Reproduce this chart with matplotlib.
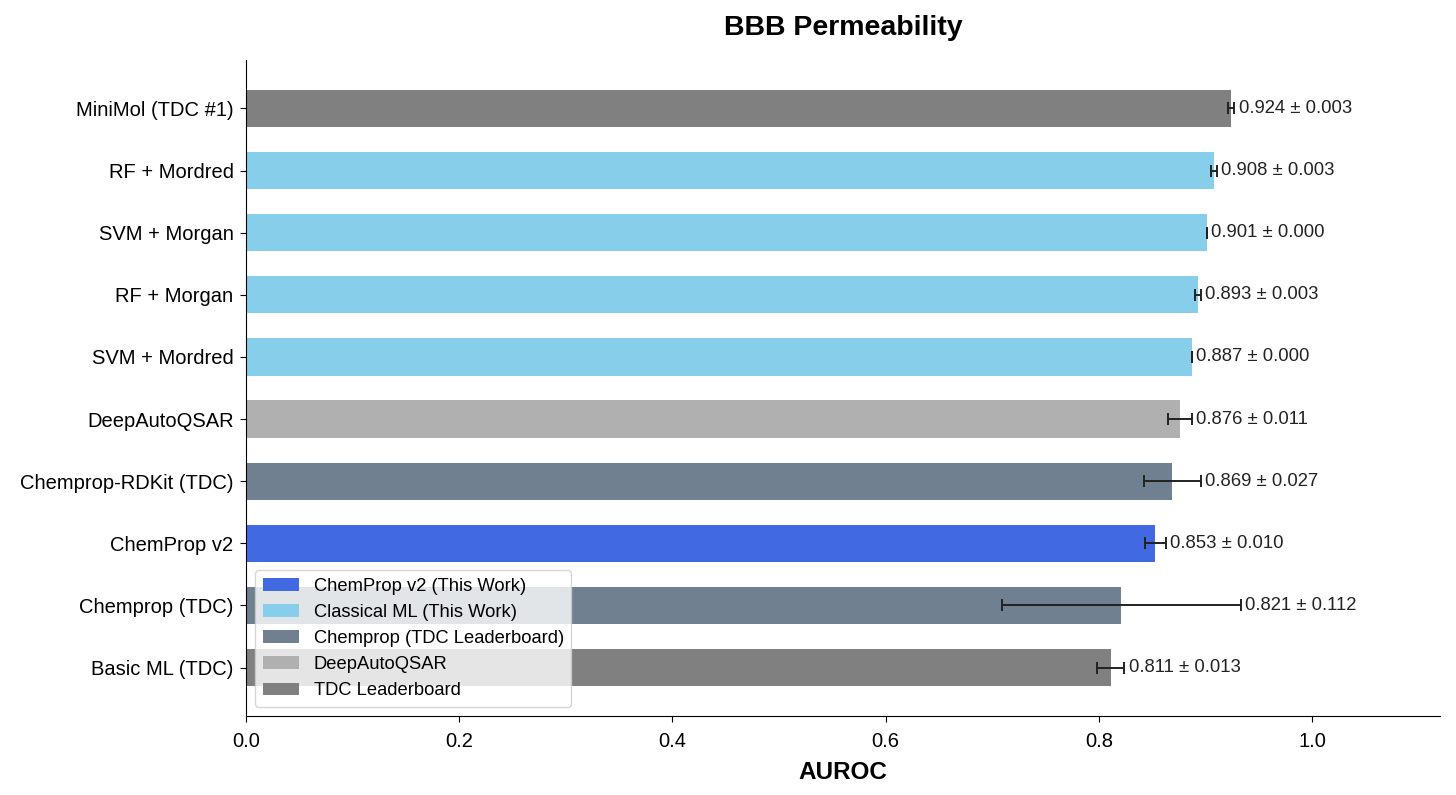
import matplotlib.pyplot as plt
from matplotlib.patches import Patch

plt.rcParams['font.family'] = ['Liberation Sans', 'DejaVu Sans']

models = ["Basic ML (TDC)", "Chemprop (TDC)", "ChemProp v2", "Chemprop-RDKit (TDC)",
          "DeepAutoQSAR", "SVM + Mordred", "RF + Morgan", "SVM + Morgan",
          "RF + Mordred", "MiniMol (TDC #1)"]
auroc = [0.811, 0.821, 0.853, 0.869, 0.876, 0.887, 0.893, 0.901, 0.908, 0.924]
errors = [0.013, 0.112, 0.010, 0.027, 0.011, 0.000, 0.003, 0.000, 0.003, 0.003]
groups = ["tdc", "chemprop_tdc", "v2", "chemprop_tdc", "deepauto",
          "classical", "classical", "classical", "classical", "tdc"]

group_colors = {
    "v2": "#4169E1",
    "classical": "#87CEEB",
    "chemprop_tdc": "#708090",
    "deepauto": "#B0B0B0",
    "tdc": "#808080",
}
legend_labels = [
    ("v2", "ChemProp v2 (This Work)"),
    ("classical", "Classical ML (This Work)"),
    ("chemprop_tdc", "Chemprop (TDC Leaderboard)"),
    ("deepauto", "DeepAutoQSAR"),
    ("tdc", "TDC Leaderboard"),
]

fig, ax = plt.subplots(figsize=(14.56, 7.95), dpi=100)
fig.subplots_adjust(left=0.169, right=0.989, top=0.9245, bottom=0.0994)

y = range(len(models))
colors = [group_colors[g] for g in groups]
ax.barh(y, auroc, height=0.6, color=colors, xerr=errors,
        error_kw=dict(ecolor="#222222", capsize=4.5, elinewidth=1.4, capthick=1.4))

for i, (v, e) in enumerate(zip(auroc, errors)):
    ax.text(v + e + 0.004, i, f"{v:.3f} ± {e:.3f}", va="center", ha="left",
            fontsize=13.3, color="#222222")

ax.set_yticks(list(y))
ax.set_yticklabels(models, fontsize=14.5)
ax.tick_params(axis="both", labelsize=14.5, length=4.5, pad=4.5)
ax.tick_params(axis="x", pad=7)
ax.set_xlim(0, 1.12)
ax.set_xlabel("AUROC", fontsize=17.5, fontweight="bold", labelpad=7)
ax.set_title("BBB Permeability", fontsize=20.5, fontweight="bold", pad=18)
ax.spines["top"].set_visible(False)
ax.spines["right"].set_visible(False)

handles = [Patch(facecolor=group_colors[k], label=lab) for k, lab in legend_labels]
ax.legend(handles=handles, loc="lower left", fontsize=13.2)

fig.savefig("out.png")
